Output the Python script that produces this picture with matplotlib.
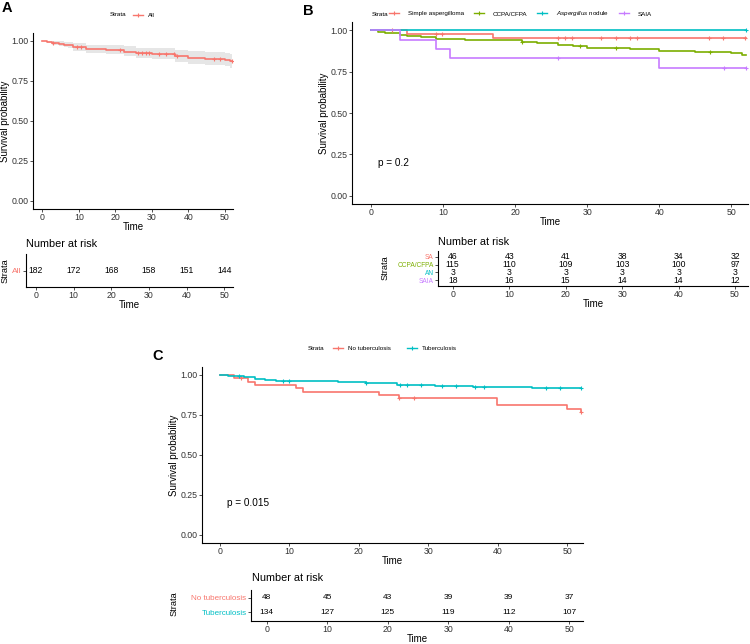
import numpy as np
import matplotlib
matplotlib.use("Agg")
import matplotlib.pyplot as plt
from matplotlib.lines import Line2D

plt.rcParams['font.family'] = ['Liberation Sans', 'DejaVu Sans']
plt.rcParams['mathtext.fontset'] = 'custom'
plt.rcParams['mathtext.it'] = 'Liberation Sans:italic'
plt.rcParams['mathtext.rm'] = 'Liberation Sans'

RED = '#F8766D'
GREEN = '#7CAE00'
CYAN = '#00BFC4'
PURPLE = '#C77CFF'

# ---- data ----
risk_times = [0, 10, 20, 30, 40, 50]

# Panel A: all patients
all_t = [1.2, 2.5, 4.5, 6, 7, 8.5, 12, 17.5, 22.5, 25.6, 30, 36.5, 40, 44.5, 50, 51.5]
all_s = [0.995, 0.989, 0.984, 0.978, 0.972, 0.961, 0.950, 0.944, 0.933, 0.922, 0.917,
         0.906, 0.895, 0.889, 0.884, 0.873]
all_lo = [1.0, 0.985, 0.977, 0.970, 0.962, 0.954, 0.940, 0.926, 0.918, 0.905, 0.891,
          0.885, 0.871, 0.858, 0.851, 0.845, 0.831]
all_hi = [1.0, 1.0, 0.999, 0.997, 0.994, 0.991, 0.985, 0.978, 0.974, 0.966, 0.958,
          0.954, 0.945, 0.937, 0.932, 0.928, 0.920]
all_cens = [3, 9.4, 10.5, 21.4, 26.3, 27.3, 28.3, 29.3, 32, 34, 36, 37, 47, 48.8, 52]
all_risk = [182, 172, 168, 158, 151, 144]

# Panel B: by form
sa_t = [5, 17]
sa_s = [0.978, 0.956]
sa_cens = [3, 9, 9.9, 26, 26.9, 27.9, 31.9, 34, 35.9, 36.9, 46.9, 48.9, 51.9]
ccpa_t = [1, 2, 4, 5, 7, 9, 13, 21, 23, 26, 28, 30, 36, 40, 45, 50, 51.5]
ccpa_s = [0.991, 0.983, 0.974, 0.965, 0.957, 0.948, 0.939, 0.930, 0.922, 0.913, 0.904,
          0.895, 0.886, 0.877, 0.868, 0.860, 0.851]
ccpa_cens = [21, 29, 34, 47]
an_t = []
an_s = []
an_cens = [52]
saia_t = [4, 9, 11, 40]
saia_s = [0.944, 0.889, 0.833, 0.774]
saia_cens = [26, 49, 52]
form_labels = ['Simple aspergilloma', 'CCPA/CFPA', r'$\it{Aspergillus}$ nodule', 'SAIA']
form_short = ['SA', 'CCPA/CFPA', 'AN', 'SAIA']
sa_risk = [46, 43, 41, 38, 34, 32]
ccpa_risk = [115, 110, 109, 103, 100, 97]
an_risk = [3, 3, 3, 3, 3, 3]
saia_risk = [18, 16, 15, 14, 14, 12]

# Panel C: tuberculosis
notb_t = [2, 4, 5.1, 10.9, 11.9, 22.9, 25.8, 39.9, 50, 52]
notb_s = [0.979, 0.958, 0.938, 0.917, 0.896, 0.875, 0.854, 0.810, 0.788, 0.767]
notb_cens = [3, 25.8, 27.9, 52]
tb_t = [1.1, 3.5, 5, 6.5, 8, 17, 21, 25.5, 31, 36.5, 45]
tb_s = [0.993, 0.985, 0.978, 0.970, 0.963, 0.955, 0.948, 0.940, 0.932, 0.924, 0.916]
tb_cens = [2.8, 9, 10, 21, 26, 27, 29, 32, 34, 36.8, 38, 47, 49, 52]
notb_risk = [48, 45, 43, 39, 39, 37]
tb_risk = [134, 127, 125, 119, 112, 107]

W, H = 750, 644
fig = plt.figure(figsize=(W / 100, H / 100), dpi=100)

TICK_FS = 6.3
LAB_FS = 7.0


def px_axes(x0, y0, x1, y1):
    return fig.add_axes([x0 / W, 1 - y1 / H, (x1 - x0) / W, (y1 - y0) / H])


def fx(x):
    return x / W


def fy(y):
    return 1 - y / H


def style(ax):
    for sp in ['top', 'right']:
        ax.spines[sp].set_visible(False)
    for sp in ['left', 'bottom']:
        ax.spines[sp].set_linewidth(0.8)
    ax.tick_params(length=2, width=0.6, labelsize=TICK_FS, pad=1.2, colors='#333333')
    ax.set_xlim(-2.6, 52.3)
    ax.set_xticks(risk_times)


def km_line(ax, t, s, cens, color, tmax=52):
    tt = [0] + list(t) + [tmax]
    ss = [1.0] + list(s) + [s[-1] if s else 1.0]
    ax.step(tt, ss, where='post', color=color, lw=1.2)
    cs = [ss[np.searchsorted(tt, c, side='right') - 1] for c in cens]
    ax.plot(cens, cs, '+', color=color, ms=3.5, mew=0.8)


def main_axes(ax):
    style(ax)
    ax.set_ylim(-0.05, 1.05)
    ax.set_yticks([0, 0.25, 0.5, 0.75, 1.0])
    ax.set_yticklabels(['0.00', '0.25', '0.50', '0.75', '1.00'])
    ax.set_xlabel('Time', fontsize=LAB_FS, labelpad=-0.5)
    ax.set_ylabel('Survival probability', fontsize=LAB_FS, labelpad=1)


def legend(x_strata, y, handles, labels, x0, fs=4.5, colsp=1.6, tpad=0.8):
    fig.text(fx(x_strata), fy(y), 'Strata', fontsize=fs, va='center', ha='left')
    fig.legend(handles, labels, loc='center left', bbox_to_anchor=(fx(x0), fy(y)),
               ncol=len(labels), frameon=False, fontsize=fs, handlelength=1.6,
               handletextpad=tpad, columnspacing=colsp, borderpad=0, borderaxespad=0)


def handle(c):
    return Line2D([0], [0], color=c, lw=1.0, marker='+', ms=3.5, mew=0.8)


def risk_table(ax, rows, labels, colors, fs=6.2, lfs=5.8):
    style(ax)
    n = len(rows)
    ypos = list(range(n, 0, -1))
    for r, yv in zip(rows, ypos):
        for t, v in zip(risk_times, r):
            ax.text(t, yv, str(v), ha='center', va='center', fontsize=fs, color='black')
    ax.set_yticks(ypos)
    ax.set_yticklabels(labels, fontsize=lfs)
    for tl, c in zip(ax.get_yticklabels(), colors):
        tl.set_color(c)
    ax.set_xlabel('Time', fontsize=LAB_FS, labelpad=-0.5)


# ---- Panel A ----
axA = px_axes(33, 33, 233, 209)
tt = [0] + all_t + [52]
axA.fill_between(tt, all_lo + [all_lo[-1]], all_hi + [all_hi[-1]], step='post',
                 color='#c8c8c8', alpha=0.45, lw=0)
km_line(axA, all_t, all_s, all_cens, RED)
main_axes(axA)
fig.text(fx(2), fy(8), 'A', fontsize=10.5, fontweight='bold', va='center')
legend(110, 15, [handle(RED)], ['All'], 133)

tA = px_axes(26, 254, 233, 287)
risk_table(tA, [all_risk], ['All'], [RED], lfs=6.0)
tA.set_ylim(0.5, 1.5)
fig.text(fx(26), fy(244), 'Number at risk', fontsize=7.8, va='center')
fig.text(fx(5), fy(271), 'Strata', fontsize=6.6, va='center', ha='center', rotation=90)

# ---- Panel B ----
axB = px_axes(352, 22, 748, 204)
km_line(axB, ccpa_t, ccpa_s, ccpa_cens, GREEN)
km_line(axB, sa_t, sa_s, sa_cens, RED)
km_line(axB, an_t, an_s, an_cens, CYAN)
km_line(axB, saia_t, saia_s, saia_cens, PURPLE)
main_axes(axB)
axB.text(1, 0.2, 'p = 0.2', fontsize=7.2, va='center', ha='left')
fig.text(fx(303), fy(11), 'B', fontsize=10.5, fontweight='bold', va='center')
legend(372, 14, [handle(c) for c in [RED, GREEN, CYAN, PURPLE]], form_labels, 389,
       colsp=1.6, tpad=1.4)

tB = px_axes(438, 251, 748, 286)
risk_table(tB, [sa_risk, ccpa_risk, an_risk, saia_risk], form_short,
           [RED, GREEN, CYAN, PURPLE], lfs=4.7)
tB.set_ylim(0.3, 4.7)
fig.text(fx(438), fy(242), 'Number at risk', fontsize=7.8, va='center')
fig.text(fx(385), fy(268), 'Strata', fontsize=6.6, va='center', ha='center', rotation=90)

# ---- Panel C ----
axC = px_axes(202, 367, 583, 543)
km_line(axC, notb_t, notb_s, notb_cens, RED)
km_line(axC, tb_t, tb_s, tb_cens, CYAN)
main_axes(axC)
axC.text(1, 0.2, 'p = 0.015', fontsize=7.2, va='center', ha='left')
fig.text(fx(152), fy(356), 'C', fontsize=10.5, fontweight='bold', va='center')
legend(308, 348, [handle(RED), handle(CYAN)], ['No tuberculosis', 'Tuberculosis'], 333, colsp=2.6)

tC = px_axes(251, 590, 583, 621)
risk_table(tC, [notb_risk, tb_risk], ['No tuberculosis', 'Tuberculosis'], [RED, CYAN], fs=6.0)
tC.set_ylim(0.4, 2.55)
fig.text(fx(252), fy(578), 'Number at risk', fontsize=7.8, va='center')
fig.text(fx(174), fy(604), 'Strata', fontsize=6.6, va='center', ha='center', rotation=90)

fig.savefig('out.png', dpi=100)
